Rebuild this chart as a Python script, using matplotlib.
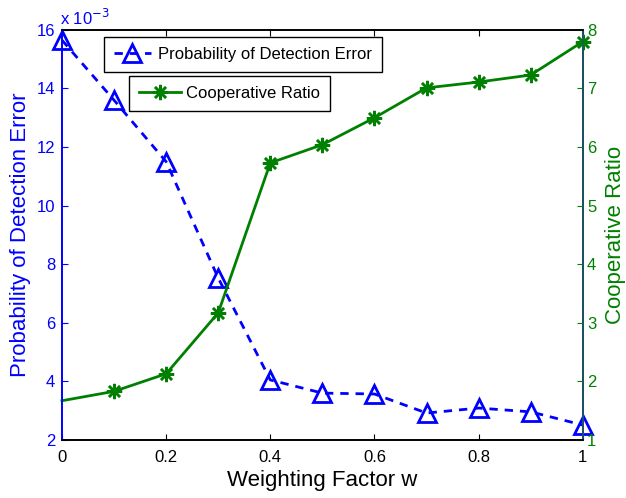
import matplotlib
matplotlib.use("Agg")
import matplotlib.pyplot as plt
from matplotlib.lines import Line2D

plt.rcParams['font.family'] = ['Liberation Sans', 'DejaVu Sans']

w = [0, 0.1, 0.2, 0.3, 0.4, 0.5, 0.6, 0.7, 0.8, 0.9, 1.0]
p_err = [15.65e-3, 13.6e-3, 11.5e-3, 7.53e-3, 4.05e-3, 3.6e-3, 3.57e-3, 2.92e-3, 3.09e-3, 2.96e-3, 2.51e-3]
coop = [1.67, 1.83, 2.13, 3.17, 5.73, 6.04, 6.5, 7.01, 7.11, 7.23, 7.8]

blue = '#0000ff'
green = '#008000'

fig = plt.figure(figsize=(6.26, 4.98), dpi=100)
ax = fig.add_axes([0.099, 0.1165, 0.832, 0.8235])
ax2 = ax.twinx()

ax.plot(w, p_err, color=blue, ls='--', lw=2, dashes=(3, 2.5), marker='^', ms=13,
        mfc='none', mec=blue, mew=2, clip_on=False, zorder=3)
ax2.plot(w, coop, color=green, lw=2, marker=(8, 2, 0), ms=11, mec=green, mew=1.8,
         markevery=list(range(1, len(w))), clip_on=False)

ax.set_xlim(0, 1)
ax.set_ylim(2e-3, 16e-3)
ax.set_yticks([2e-3, 4e-3, 6e-3, 8e-3, 10e-3, 12e-3, 14e-3, 16e-3])
ax.set_yticklabels(['2', '4', '6', '8', '10', '12', '14', '16'])
ax.set_xticks([0, 0.2, 0.4, 0.6, 0.8, 1])
ax.set_xticklabels(['0', '0.2', '0.4', '0.6', '0.8', '1'])
ax2.set_ylim(1, 8)
ax2.set_yticks(range(1, 9))

ax.tick_params(axis='x', direction='in', length=4, labelsize=12, top=True, pad=7)
ax.tick_params(axis='y', direction='in', length=4, labelsize=12, colors=blue, pad=5)
ax2.tick_params(axis='y', direction='in', length=4, labelsize=12, colors=green, pad=3)

ax.spines['left'].set_color(blue)
ax2.spines['left'].set_color(blue)
ax2.spines['right'].set_color('#1a5a6a')
for a in (ax, ax2):
    for s in a.spines.values():
        s.set_linewidth(1.2)

ax.text(-0.004, 16.05e-3, r'x 10$^{-3}$', color=blue, fontsize=12, ha='left', va='bottom')

ax.set_xlabel('Weighting Factor w', fontsize=16, labelpad=4)
ax.set_ylabel('Probability of Detection Error', fontsize=16, color=blue, labelpad=4)
ax2.set_ylabel('Cooperative Ratio', fontsize=16, color=green, labelpad=6)

h1 = Line2D([], [], color=blue, ls='--', lw=2, dashes=(3, 2.5), marker='^', ms=13,
            mfc='none', mec=blue, mew=2)
h2 = Line2D([], [], color=green, lw=2, marker=(8, 2, 0), ms=11, mec=green, mew=1.8)
leg1 = ax2.legend([h1], ['Probability of Detection Error'], loc='upper left',
                  bbox_to_anchor=(0.081, 0.983), fancybox=False, edgecolor='black',
                  fontsize=12, handlelength=2.2, handletextpad=0.45, borderpad=0.6,
                  borderaxespad=0, framealpha=1)
leg1.get_frame().set_linewidth(1)
ax2.add_artist(leg1)
leg2 = ax2.legend([h2], ['Cooperative Ratio'], loc='upper left',
                  bbox_to_anchor=(0.129, 0.888), fancybox=False, edgecolor='black',
                  fontsize=12, handlelength=2.5, handletextpad=0.3, borderpad=0.6,
                  borderaxespad=0, framealpha=1)
leg2.get_frame().set_linewidth(1)

fig.savefig('out.png', dpi=100)
